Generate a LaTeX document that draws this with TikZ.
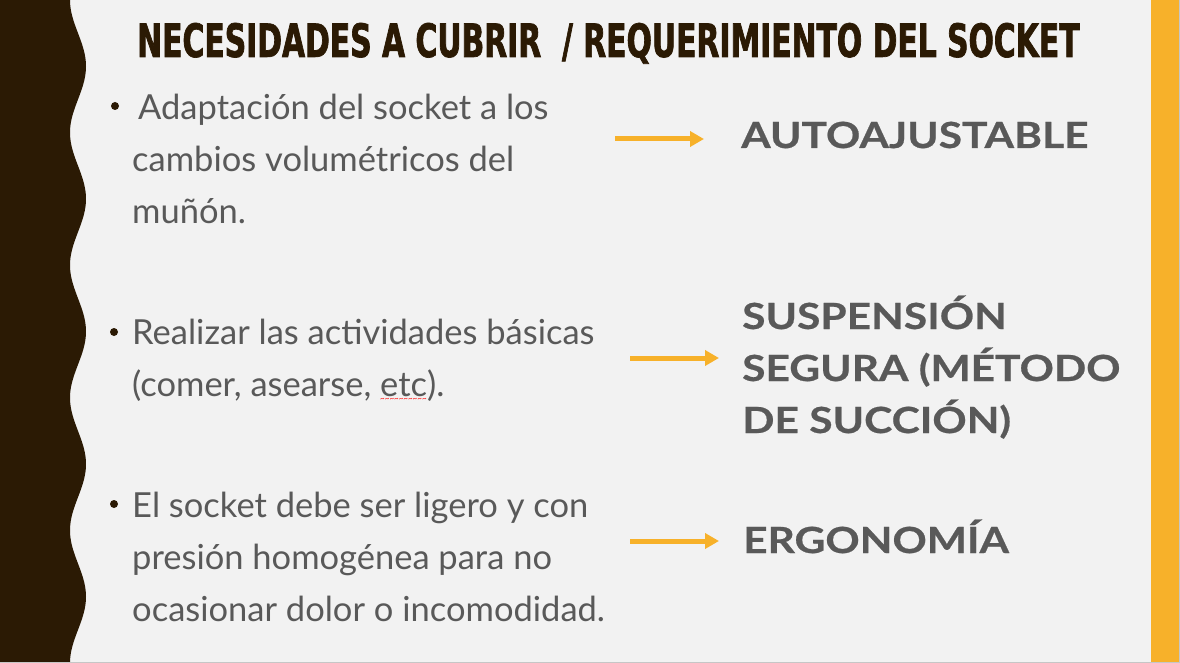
\documentclass[tikz,border=0pt]{standalone}
\usepackage{fontspec}
\usepackage{tikz}
\usetikzlibrary{arrows.meta}
\newfontfamily\titlefont[FakeStretch=0.648, FakeBold=1.5]{DejaVu Sans}
\newfontfamily\bodyfont{Lato}
\newfontfamily\reqfont[FakeStretch=1.18, FakeBold=0.6]{Lato}
\definecolor{slidebg}{HTML}{F2F2F2}
\definecolor{bandbrown}{HTML}{2B1A04}
\definecolor{bodygray}{HTML}{595959}
\definecolor{accent}{HTML}{F7B12A}
\tikzset{
  need/.style={anchor=base west, inner sep=0pt, align=left, text=bodygray,
    font=\bodyfont\fontsize{34.5}{52}\selectfont},
  req/.style={anchor=base west, inner sep=0pt, align=left, text=bodygray,
    font=\reqfont\bfseries\fontsize{36}{52}\selectfont},
  needdot/.style={circle, fill=bandbrown, inner sep=0pt, minimum size=8pt},
  reqarrow/.style={draw=accent, line width=5pt, -{Triangle[length=14pt,width=15pt]}}
}
\newcommand{\needitem}[3] {\node at (#1) (#2) [need] {#3};}
\newcommand{\needbullet}[2] {\node at (#1) (#2) [needdot] {};}
\newcommand{\reqitem}[3] {\node at (#1) (#2) [req] {#3};}
\newcommand{\reqlink}[2] {\draw [reqarrow] (#1) -- (#2);}
\newcommand{\spellmark}[1] {\setbox0=\hbox{#1}\rlap{\hbox to \wd0{\textcolor{red}{\leaders\hbox{\raisebox{-5pt}{\fontsize{8}{8}\selectfont\textasciitilde}}\hfill}}}\box0}

\begin{document}
\begin{tikzpicture}[x=1pt, y=-1pt]
\useasboundingbox (0,0) rectangle (1180,663);

% slide background, wavy band, right bar
\fill [slidebg] (0,0) rectangle (1180,663);
\fill [bandbrown] (0,0) -- plot [domain=0:663, samples=240] ({78-8*cos(2.715*\x)}, \x) -- (0,663) -- cycle;
\fill [accent] (1151,0) rectangle (1179,663);
\draw [gray!45, line width=1pt] (0,662.5) -- (1179.5,662.5) -- (1179.5,0);

% title
\node at (137,57) (title) [anchor=base west, inner sep=0pt, text=bandbrown,
  font=\titlefont\bfseries\fontsize{46}{50}\selectfont]
  {NECESIDADES A CUBRIR \ / REQUERIMIENTO DEL SOCKET};

% needs (placed by the baseline of the last line)
\needbullet {115,106}{dot1}
\needitem {132,223}{need1}{\hspace*{6pt}Adaptación del socket a los\\cambios volumétricos del\\muñón.}

\needbullet {114,332}{dot2}
\needitem {132,396}{need2}{Realizar las actividades básicas\\(comer, asearse, \spellmark{etc}).}

\needbullet {114,504}{dot3}
\needitem {132,621}{need3}{El socket debe ser ligero y con\\presión homogénea para no\\ocasionar dolor o incomodidad.}

% requirements
\reqitem {741,148}{req1}{AUTOAJUSTABLE}
\reqitem {742,433}{req2}{SUSPENSIÓN\\SEGURA (MÉTODO\\DE SUCCIÓN)}
\reqitem {743,553}{req3}{ERGONOMÍA}

\coordinate (link1a) at (615,139);
\coordinate (link1b) at (704,139);
\reqlink {link1a}{link1b}

\coordinate (link2a) at (630,358);
\coordinate (link2b) at (719,358);
\reqlink {link2a}{link2b}

\coordinate (link3a) at (630,541);
\coordinate (link3b) at (719,541);
\reqlink {link3a}{link3b}

\end{tikzpicture}
\end{document}
